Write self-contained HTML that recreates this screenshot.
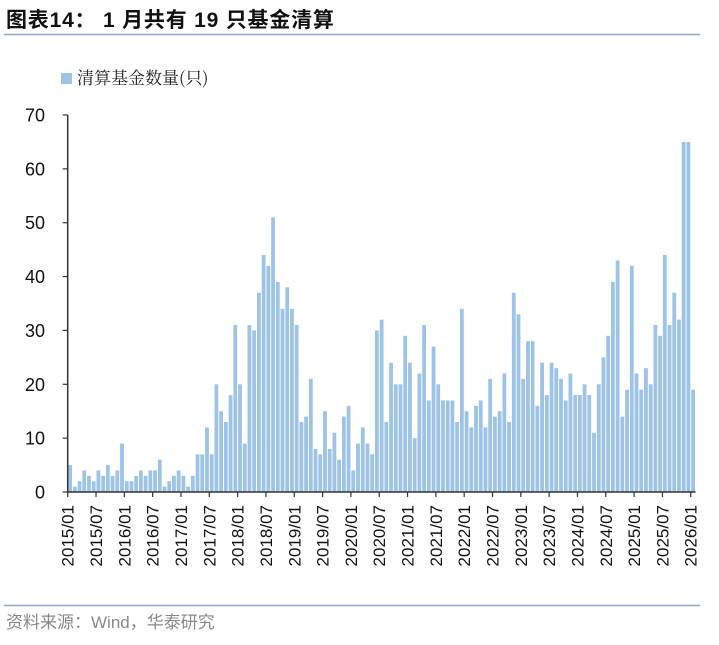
<!DOCTYPE html>
<html><head><meta charset="utf-8"><style>
body{margin:0;background:#fff;}
svg text{font-family:"Liberation Sans","Noto Sans CJK SC",sans-serif;}
</style></head><body>
<svg width="719" height="640" xmlns="http://www.w3.org/2000/svg">
<text x="6" y="27" font-size="21" font-weight="bold" fill="#111" letter-spacing="0.8">图表14： 1 月共有 19 只基金清算</text>
<line x1="4" y1="34.5" x2="700" y2="34.5" stroke="#8ea6c4" stroke-width="1.5"/>
<rect x="61" y="73" width="11" height="11" fill="#9dc3e6"/>
<text x="77" y="84" font-size="17" fill="#222" style="font-family:'Noto Serif CJK SC',serif">清算基金数量(只)</text>
<g id="plot"></g>
<line x1="4" y1="605.5" x2="700" y2="605.5" stroke="#8ea6c4" stroke-width="1.5"/>
<text x="6" y="628" font-size="17" fill="#888">资料来源：Wind，华泰研究</text>
</svg>
<script>
const values=[5,1,2,4,3,2,4,3,5,3,4,9,2,2,3,4,3,4,4,6,1,2,3,4,3,1,3,7,7,12,7,20,15,13,18,31,20,9,31,30,37,44,42,51,39,
34,38,34,31,13,14,21,8,7,15,8,11,6,14,16,4,9,12,9,7,30,32,13,24,20,20,29,24,10,22,31,17,27,20,17,17,17,13,34,15,12,16,17,12,21,
14,15,22,13,37,33,21,28,28,16,24,18,24,23,21,17,22,18,18,20,18,11,20,25,29,39,43,14,19,42,22,19,23,20,31,29,44,31,37,32,65,65,19];
const yTicks=[0,10,20,30,40,50,60,70];
const startYear=2015;
const NS='http://www.w3.org/2000/svg';
const g=document.getElementById('plot');
const x0=67.7,step=4.72,y0=492,yMax=70,yTop=115;
const yS=v=>y0-(v/yMax)*(y0-yTop);
const xS=i=>x0+i*step;
function mk(t,a){const e=document.createElementNS(NS,t);for(const k in a)e.setAttribute(k,a[k]);g.appendChild(e);return e;}
values.forEach((v,i)=>{
 const r=mk('rect',{x:xS(i)+0.5,y:yS(v),width:3.8,height:y0-yS(v),fill:'#9dc3e6'});
 
 
});
const ax=mk('line',{x1:x0,y1:yTop,x2:x0,y2:y0,stroke:'#333','stroke-width':1.5});


const bx=mk('line',{x1:x0,y1:y0,x2:xS(values.length),y2:y0,stroke:'#333','stroke-width':1.5});


yTicks.forEach(t=>{
 const tk=mk('line',{x1:x0-5,y1:yS(t),x2:x0,y2:yS(t),stroke:'#333','stroke-width':1.2});
 
 
 const tx=mk('text',{x:45,y:yS(t)+6.5,'font-size':18,'text-anchor':'end',fill:'#111'});
 tx.textContent=t;
 
 
});
for(let i=0;i<=values.length;i+=6){
 const x=xS(i);
 const tk=mk('line',{x1:x,y1:y0,x2:x,y2:y0+5,stroke:'#333','stroke-width':1.2});
 
 
 const yr=startYear+Math.floor(i/12),mo=(i%12)+1;
 const lbl=yr+'/'+(mo<10?'0':'')+mo;
 const tx=mk('text',{x:0,y:0,'font-size':17,'text-anchor':'end',fill:'#111',transform:`translate(${x+6},${y0+13}) rotate(-90)`});
 tx.textContent=lbl;
 
 
}
</script>
</body></html>
